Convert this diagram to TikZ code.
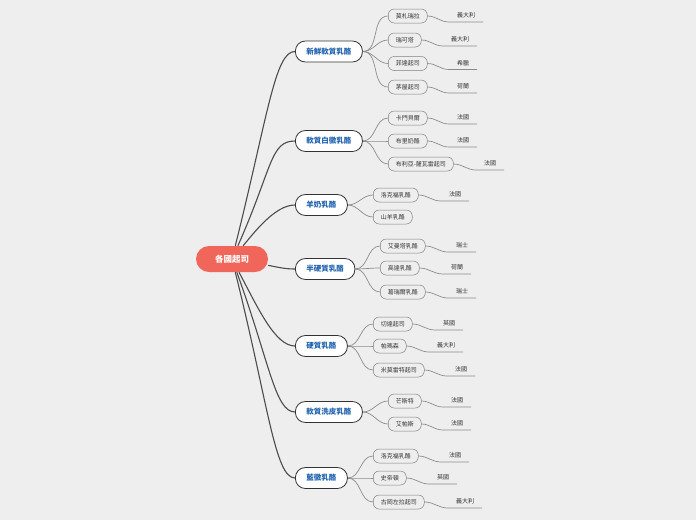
\documentclass[tikz,border=0pt]{standalone}
\usepackage{fontspec}
\newfontfamily\cjk{Noto Sans CJK TC}
\definecolor{paper}{HTML}{EEEEEE}
\definecolor{rootred}{HTML}{F0665B}
\definecolor{kindblue}{HTML}{1F62AE}

\begin{document}
\begin{tikzpicture}[
        x=1pt, y=1pt,
        root/.style={
        rectangle,
        rounded corners=13pt,
        fill=rootred,
        text=white,
        minimum width=72pt,
        minimum height=26pt,
        font=\cjk\bfseries\fontsize{8.5}{9}\selectfont
      },
        kind/.style={
        rectangle,
        rounded corners=10pt,
        draw=black!80,
        line width=0.8pt,
        fill=white,
        minimum height=21pt,
        inner xsep=11pt,
        anchor=west,
        text=kindblue,
        font=\cjk\bfseries\fontsize{7.5}{8}\selectfont
      },
        cheese/.style={
        rectangle,
        rounded corners=6pt,
        draw=black!50,
        line width=0.5pt,
        minimum height=14pt,
        inner xsep=7.5pt,
        anchor=west,
        text=black!80,
        font=\cjk\fontsize{6}{7}\selectfont
      },
        land/.style={
        anchor=south,
        inner xsep=8pt,
        inner ysep=3.5pt,
        text=black!80,
        font=\cjk\fontsize{6}{7}\selectfont
      },
        trunk/.style={draw=black!70, line width=1.1pt},
        twig/.style={draw=black!45, line width=0.7pt}
    ]

    \fill[paper] (0,0) rectangle (696,-520);

    \node[root] (r) at (232,-259) {各國起司};

    \node[kind] (k1) at (295,-51.5) {新鮮軟質乳酪};
    \node[kind] (k2) at (295,-141) {軟質白黴乳酪};
    \node[kind] (k3) at (295,-205) {羊奶乳酪};
    \node[kind] (k4) at (295,-269) {半硬質乳酪};
    \node[kind] (k5) at (295,-346) {硬質乳酪};
    \node[kind] (k6) at (295,-412) {軟質洗皮乳酪};
    \node[kind] (k7) at (295,-478) {藍黴乳酪};

    \draw[trunk] (r) .. controls +(76:150) and +(-20,0) .. (k1.west);
    \draw[trunk] (r) .. controls +(66:100) and +(-25,0) .. (k2.west);
    \draw[trunk] (r) .. controls +(50:35) and +(-20,0) .. (k3.west);
    \draw[trunk] (r) to[out=-10,in=180] (k4.west);
    \draw[trunk] (r) .. controls +(-62:55) and +(-20,0) .. (k5.west);
    \draw[trunk] (r) .. controls +(-70:110) and +(-20,0) .. (k6.west);
    \draw[trunk] (r) .. controls +(-76:150) and +(-20,0) .. (k7.west);

    \node[cheese] (s11) at (388,-16) {莫札瑞拉};
    \node[cheese] (s12) at (388,-40) {瑞可塔};
    \node[cheese] (s13) at (388,-63.5) {菲達起司};
    \node[cheese] (s14) at (388,-87) {茅屋起司};

    \node[cheese] (s21) at (388,-118) {卡門貝爾};
    \node[cheese] (s22) at (388,-141) {布里奶酪};
    \node[cheese] (s23) at (388,-164) {布利亞-薩瓦雷起司};

    \node[cheese] (s31) at (373,-195) {洛克福乳酪};
    \node[cheese] (s32) at (373,-217) {山羊乳酪};

    \node[cheese] (s41) at (380,-246) {艾曼塔乳酪};
    \node[cheese] (s42) at (380,-268) {高達乳酪};
    \node[cheese] (s43) at (380,-292) {葛瑞爾乳酪};

    \node[cheese] (s51) at (373,-324) {切達起司};
    \node[cheese] (s52) at (373,-346) {帕瑪森};
    \node[cheese] (s53) at (373,-370) {米莫雷特起司};

    \node[cheese] (s61) at (388,-401) {芒斯特};
    \node[cheese] (s62) at (388,-424) {艾帕斯};

    \node[cheese] (s71) at (373,-456) {洛克福乳酪};
    \node[cheese] (s72) at (373,-478) {史帝頓};
    \node[cheese] (s73) at (373,-502) {古岡左拉起司};

    \draw[twig] (k1.east) to[out=0,in=180] (s11.west);
    \draw[twig] (k1.east) to[out=0,in=180] (s12.west);
    \draw[twig] (k1.east) to[out=0,in=180] (s13.west);
    \draw[twig] (k1.east) to[out=0,in=180] (s14.west);
    \draw[twig] (k2.east) to[out=0,in=180] (s21.west);
    \draw[twig] (k2.east) to[out=0,in=180] (s22.west);
    \draw[twig] (k2.east) to[out=0,in=180] (s23.west);
    \draw[twig] (k3.east) to[out=0,in=180] (s31.west);
    \draw[twig] (k3.east) to[out=0,in=180] (s32.west);
    \draw[twig] (k4.east) to[out=0,in=180] (s41.west);
    \draw[twig] (k4.east) to[out=0,in=180] (s42.west);
    \draw[twig] (k4.east) to[out=0,in=180] (s43.west);
    \draw[twig] (k5.east) to[out=0,in=180] (s51.west);
    \draw[twig] (k5.east) to[out=0,in=180] (s52.west);
    \draw[twig] (k5.east) to[out=0,in=180] (s53.west);
    \draw[twig] (k6.east) to[out=0,in=180] (s61.west);
    \draw[twig] (k6.east) to[out=0,in=180] (s62.west);
    \draw[twig] (k7.east) to[out=0,in=180] (s71.west);
    \draw[twig] (k7.east) to[out=0,in=180] (s72.west);
    \draw[twig] (k7.east) to[out=0,in=180] (s73.west);

    \node[land] (l11) at (466,-22) {義大利};
    \node[land] (l12) at (460,-46) {義大利};
    \node[land] (l13) at (463,-69.5) {希臘};
    \node[land] (l14) at (463,-93) {荷蘭};
    \node[land] (l21) at (463,-124) {法國};
    \node[land] (l22) at (463,-147) {法國};
    \node[land] (l23) at (490,-170) {法國};
    \node[land] (l31) at (455,-201) {法國};
    \node[land] (l41) at (462,-252) {瑞士};
    \node[land] (l42) at (457,-274) {荷蘭};
    \node[land] (l43) at (462,-298) {瑞士};
    \node[land] (l51) at (449,-330) {英國};
    \node[land] (l52) at (446,-352) {義大利};
    \node[land] (l53) at (461,-376) {法國};
    \node[land] (l61) at (457,-407) {法國};
    \node[land] (l62) at (457,-430) {法國};
    \node[land] (l71) at (455,-462) {法國};
    \node[land] (l72) at (443,-484) {英國};
    \node[land] (l73) at (465,-508) {義大利};

    \draw[twig] (s11.east) to[out=0,in=180] (l11.south west) -- (l11.south east);
    \draw[twig] (s12.east) to[out=0,in=180] (l12.south west) -- (l12.south east);
    \draw[twig] (s13.east) to[out=0,in=180] (l13.south west) -- (l13.south east);
    \draw[twig] (s14.east) to[out=0,in=180] (l14.south west) -- (l14.south east);
    \draw[twig] (s21.east) to[out=0,in=180] (l21.south west) -- (l21.south east);
    \draw[twig] (s22.east) to[out=0,in=180] (l22.south west) -- (l22.south east);
    \draw[twig] (s23.east) to[out=0,in=180] (l23.south west) -- (l23.south east);
    \draw[twig] (s31.east) to[out=0,in=180] (l31.south west) -- (l31.south east);
    \draw[twig] (s41.east) to[out=0,in=180] (l41.south west) -- (l41.south east);
    \draw[twig] (s42.east) to[out=0,in=180] (l42.south west) -- (l42.south east);
    \draw[twig] (s43.east) to[out=0,in=180] (l43.south west) -- (l43.south east);
    \draw[twig] (s51.east) to[out=0,in=180] (l51.south west) -- (l51.south east);
    \draw[twig] (s52.east) to[out=0,in=180] (l52.south west) -- (l52.south east);
    \draw[twig] (s53.east) to[out=0,in=180] (l53.south west) -- (l53.south east);
    \draw[twig] (s61.east) to[out=0,in=180] (l61.south west) -- (l61.south east);
    \draw[twig] (s62.east) to[out=0,in=180] (l62.south west) -- (l62.south east);
    \draw[twig] (s71.east) to[out=0,in=180] (l71.south west) -- (l71.south east);
    \draw[twig] (s72.east) to[out=0,in=180] (l72.south west) -- (l72.south east);
    \draw[twig] (s73.east) to[out=0,in=180] (l73.south west) -- (l73.south east);

  \end{tikzpicture}
\end{document}
